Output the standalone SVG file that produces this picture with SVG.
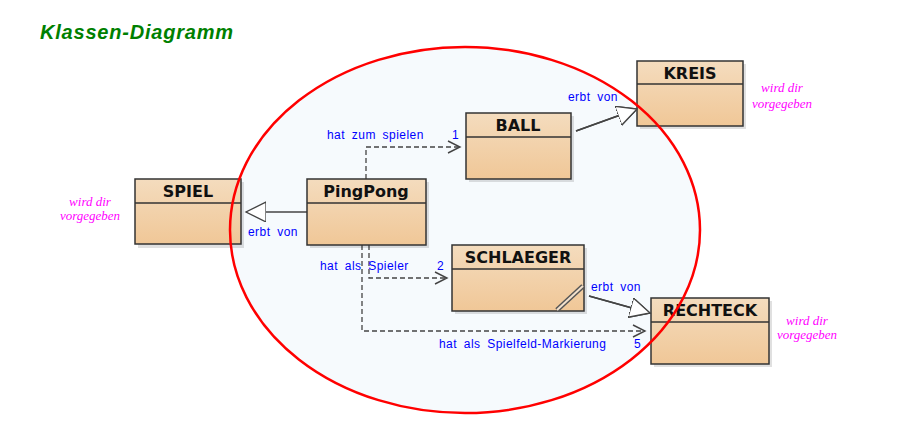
<svg xmlns="http://www.w3.org/2000/svg" width="911" height="445" viewBox="0 0 911 445">
<defs>
<linearGradient id="boxg" x1="0" y1="0" x2="0" y2="1">
<stop offset="0" stop-color="#f4dcbe"/>
<stop offset="1" stop-color="#f0c797"/>
</linearGradient>
<marker id="tri" markerWidth="22" markerHeight="22" refX="20" refY="10" orient="auto" markerUnits="userSpaceOnUse">
<path d="M0,0 L20,10 L0,20 Z" fill="#ffffff" stroke="#444" stroke-width="1.3"/>
</marker>
<marker id="open" markerWidth="16" markerHeight="16" refX="13" refY="7" orient="auto" markerUnits="userSpaceOnUse">
<path d="M1,1 L13,7 L1,13" fill="none" stroke="#444" stroke-width="1.4"/>
</marker>
</defs>
<style>
.box{fill:url(#boxg);stroke:#333;stroke-width:1.5}
.shadow{fill:#000;opacity:0.12}
.div{stroke:#333;stroke-width:1.3}
.name{font-family:"DejaVu Sans",Verdana,sans-serif;font-weight:bold;font-size:16px;fill:#111;text-anchor:middle}
.lbl{font-family:"Liberation Sans",Arial,sans-serif;font-size:12px;fill:#0000ff;word-spacing:3px;letter-spacing:0.45px}
.note{font-family:"Liberation Serif","Times New Roman",serif;font-style:italic;font-size:13px;fill:#ff00ff;text-anchor:middle}
.conn{fill:none;stroke:#444;stroke-width:1.4}
.dash{fill:none;stroke:#444;stroke-width:1.3;stroke-dasharray:5,3}
</style>
<rect width="911" height="445" fill="#ffffff"/>
<text x="40" y="39" font-family="Liberation Sans,Arial,sans-serif" font-size="20" font-weight="bold" font-style="italic" fill="#008000" textLength="193">Klassen-Diagramm</text>
<ellipse id="area" cx="465" cy="230" rx="235" ry="183" fill="#f6fafd"/>

<g id="connectors">
<line class="conn" x1="307" y1="212" x2="246" y2="212" marker-end="url(#tri)"/>
<line class="conn" x1="576" y1="131" x2="637" y2="109" marker-end="url(#tri)"/>
<line class="conn" x1="589" y1="296" x2="650" y2="313" marker-end="url(#tri)"/>
<polyline class="dash" points="366,179 366,147 460,147" marker-end="url(#open)"/>
<polyline class="dash" points="369,245 369,278 447,278" marker-end="url(#open)"/>
<polyline class="dash" points="362,245 362,331 645,331" marker-end="url(#open)"/>
<text class="lbl" x="248" y="236">erbt von</text>
<text class="lbl" x="568" y="101">erbt von</text>
<text class="lbl" x="591" y="291">erbt von</text>
<text class="lbl" x="327" y="139">hat zum spielen</text>
<text class="lbl" x="452" y="139">1</text>
<text class="lbl" x="320" y="270">hat als Spieler</text>
<text class="lbl" x="437" y="270">2</text>
<text class="lbl" x="439" y="348">hat als Spielfeld-Markierung</text>
<text class="lbl" x="634" y="348">5</text>
</g>

<g id="spiel">
<rect class="shadow" x="138" y="182" width="106" height="66"/>
<rect class="box" x="135" y="179" width="106" height="65"/>
<line class="div" x1="135" y1="203" x2="241" y2="203"/>
<text class="name" x="188" y="197">SPIEL</text>
</g>
<g id="pingpong">
<rect class="shadow" x="310" y="182" width="119" height="66"/>
<rect class="box" x="307" y="179" width="119" height="66"/>
<line class="div" x1="307" y1="203" x2="426" y2="203"/>
<text class="name" x="366" y="197">PingPong</text>
</g>
<g id="ball">
<rect class="shadow" x="469" y="116" width="105" height="66"/>
<rect class="box" x="466" y="113" width="105" height="66"/>
<line class="div" x1="466" y1="137" x2="571" y2="137"/>
<text class="name" x="518" y="131">BALL</text>
</g>
<g id="kreis">
<rect class="shadow" x="640" y="64" width="106" height="65"/>
<rect class="box" x="637" y="61" width="106" height="65"/>
<line class="div" x1="637" y1="84" x2="743" y2="84"/>
<text class="name" x="690" y="79">KREIS</text>
</g>
<g id="schlaeger">
<rect class="shadow" x="455" y="248" width="132" height="66"/>
<rect class="box" x="452" y="245" width="132" height="66" stroke="#000" stroke-width="3"/>
<line class="div" x1="452" y1="269" x2="584" y2="269"/>
<text class="name" x="518" y="263">SCHLAEGER</text>
<line x1="557" y1="310" x2="583" y2="286" stroke="#555" stroke-width="5"/>
<line x1="557" y1="310" x2="583" y2="286" stroke="#f3e1cc" stroke-width="2"/>
</g>
<g id="rechteck">
<rect class="shadow" x="654" y="301" width="118" height="66"/>
<rect class="box" x="651" y="298" width="118" height="66"/>
<line class="div" x1="651" y1="322" x2="769" y2="322"/>
<text class="name" x="710" y="316">RECHTECK</text>
</g>
<line x1="589" y1="296" x2="650" y2="313" stroke="#444" stroke-width="1.4" marker-end="url(#tri)"/>
<line x1="576" y1="131" x2="637" y2="109" stroke="#444" stroke-width="1.4" marker-end="url(#tri)"/>

<g id="notes">
<text class="note" x="90" y="206">wird dir</text>
<text class="note" x="90" y="220">vorgegeben</text>
<text class="note" x="782" y="92">wird dir</text>
<text class="note" x="782" y="108">vorgegeben</text>
<text class="note" x="807" y="325">wird dir</text>
<text class="note" x="807" y="339">vorgegeben</text>
</g>
<ellipse cx="465" cy="230" rx="235" ry="183" fill="none" stroke="#ff0000" stroke-width="2.5"/>
</svg>
